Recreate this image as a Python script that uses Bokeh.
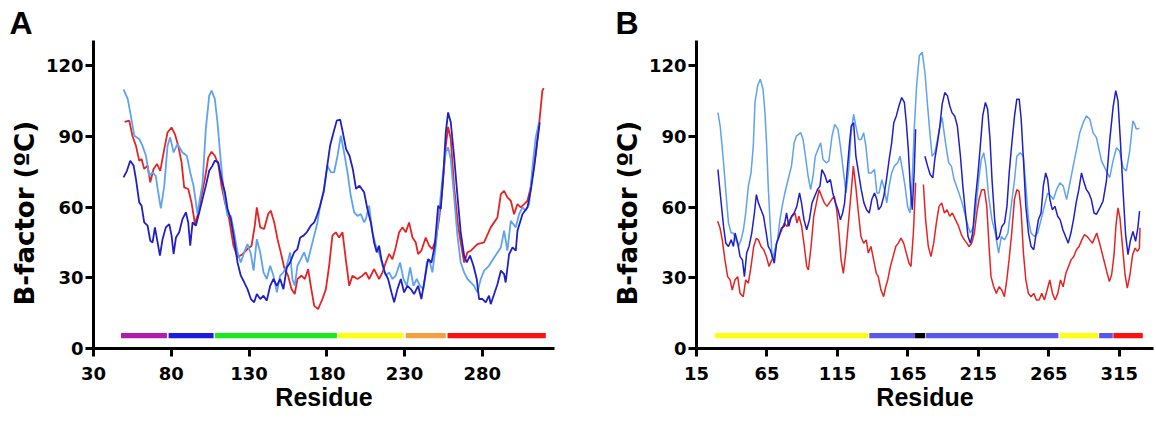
from bokeh.plotting import figure
from bokeh.layouts import row
from bokeh.models import Range1d, FixedTicker, Title
from bokeh.embed import file_html
from bokeh.resources import INLINE

NaN = float("nan")

# ---------------- Panel A data ----------------
a_red_res = [50, 53, 55, 57.3, 59.4, 60.9, 62.6, 64.8, 66.5, 68.6, 70.8, 72.9, 75.5, 77.6, 80.2, 82.3, 84.5, 86.6, 88.3,
             90.9, 93, 95.2, 96.9, 99, 101.6, 103.8, 105.9, 108, 110.2, 112.3, 114.5, 117.2, 120, 122.6, 125.8, 129,
             131.6, 133.7, 135, 137.2, 139.7, 142.3, 144, 146.2, 148.3, 150.4, 152.6, 155.1, 157.3, 159.4, 161.1,
             163.7, 165.9, 168, 169.7, 171.9, 174.4, 177.2, 179.4, 181.5, 183.6, 185.8, 187.9, 190.1, 192.2, 194.4,
             196.5, 199.7, 202.9, 205.1, 207.2, 210.4, 213.6, 215.8, 217.9, 220.1, 222.2, 224.3, 226.5, 228.6, 230.8,
             232.9, 235.1, 237.2, 238.7, 240.8, 243.6, 245.8, 247.9, 250.1, 252.2, 254.3, 256.5, 258, 259.7, 261.8,
             264.4, 266.1, 268.3, 270.4, 272.6, 276.9, 281.1, 285.4, 289.7, 291.9, 294, 296.1, 298.3, 300.4, 302.6,
             304.7, 306.9, 309, 311.1, 314.3, 316.5, 318.6, 319.5]
a_red_val = [96.2, 96.7, 90.3, 86, 79.7, 80.4, 76.2, 77.6, 70.5, 76.2, 78.3, 75.4, 84.6, 91.7, 93.8, 91, 86, 79, 68.4,
             67.7, 62, 53, 56.3, 63.4, 71.9, 81.1, 83.5, 81.8, 78.3, 69, 62, 55, 43.6, 38.7, 40, 42.2,
             43.6, 52.1, 59.9, 51.4, 50.7, 57.1, 58.5, 53.5, 46.4, 40.8, 34.4, 30.9, 25.2, 23.1, 29.5,
             30.9, 29.5, 33.7, 26.6, 18.1, 16.7, 21, 25.2, 35.1, 47.9, 49.3, 47.1, 49.3, 37.9, 26.6,
             30.9, 29.5, 30.9, 32.3, 29.5, 33.7, 29.5, 32.3, 36.5, 40.1, 37.9, 42.9, 49.3, 51.4, 49.3,
             53.5, 47.1, 45, 40.1, 41.5, 47.1, 43.6, 42.2, 46.4, 54.9, 67.7, 86, 94, 88.9, 69,
             52.1, 45, 36.5, 40.8, 41.5, 44.3, 45, 51.4, 55.6, 65.5, 66.9, 64.1, 62.7, 57, 61.3,
             59.9, 61.3, 62.7, 68.3, 82.5, 95.2, 109.4, 110.5]

a_dark_res = [49.3, 51.5, 53.6, 55.8, 57.3, 59.4, 60.9, 62.6, 64.8, 66.5, 68, 69.5, 71.2, 72.7, 74.4, 76.5, 78.7, 80.2,
              81.5, 83, 85.1, 87.2, 89.4, 90.9, 92.2, 93.7, 95.8, 98, 100.1, 102.2, 104.4, 106.5, 108, 110.2, 112.3,
              114.5, 116.2, 118.3, 120.4, 122.6, 124.7, 126.9, 129, 131.2, 133.3, 135, 137.2, 139.3, 141.4, 143.6,
              145.7, 147.9, 150, 152.1, 154.3, 156.4, 159, 161.1, 162.9, 165, 167.1, 169.7, 171.9, 173.6, 175.7,
              177.9, 180, 182.1, 184.3, 186.4, 188.6, 190.3, 192.4, 194.6, 196.7, 198.8, 201, 204, 206.1, 208.3,
              210.4, 212.1, 213.6, 215.1, 217.3, 219.4, 221.6, 223.3, 225.4, 227.6, 229.7, 231.8, 234, 236.1, 238.7,
              240.8, 243, 245.1, 247.3, 249.4, 251.6, 253.3, 255, 256.5, 258, 259.7, 261.8, 264, 266.1, 268.3, 270,
              272.1, 274.3, 276.4, 277.9, 280.1, 282.2, 284.3, 285.4, 287.6, 289.7, 291.9, 294, 295, 297.2, 299.4,
              301.5, 302.6, 305.8, 309, 311.1, 313.3, 315.4, 316.9]
a_dark_val = [72.6, 75.4, 79.7, 77.6, 71.9, 62, 60.6, 53.5, 52.1, 45.7, 45, 51.4, 45, 39.4, 46.4, 51.4, 52.8, 47.9,
              40.1, 47.1, 49.3, 54.9, 57.8, 53.5, 43.6, 53.5, 52.1, 57.8, 63.4, 69, 75.4, 77.6, 79.7, 79, 71.9,
              66.3, 59.2, 54.9, 46.4, 36.5, 30.9, 28.1, 25.2, 21, 19.6, 23.1, 21, 22.4, 20.3, 26.6,
              29.5, 26.6, 29.5, 25.2, 34.4, 36.5, 40.8, 42.2, 47.1, 47.9, 49.3, 52.1, 53.5, 56.3, 60.6,
              66.3, 76.2, 86, 91.7, 96.7, 97.1, 91.7, 84.6, 81.8, 76.2, 67.7, 69.1, 66.3, 59.2, 53.5,
              45, 40.8, 43.6, 37.9, 32.3, 29.5, 23.8, 19.6, 25.2, 29.5, 23.8, 26.6, 25.2, 23.1, 26.6,
              21, 29.5, 37.9, 36.5, 43.6, 60.6, 59.2, 74.7, 91.7, 100.2, 96, 81.8, 64.8, 49.3, 39.4, 36.5,
              39.4, 35.1, 29.5, 21, 21, 19.6, 22.4, 18.8, 23.1, 27.3, 33, 31.6, 28, 40, 42.9,
              41.5, 50, 57, 59.9, 67, 76.8, 88.2, 96]

a_light_res = [49.3, 52, 54, 56.2, 59.4, 61.5, 63.7, 65.8, 68, 70, 71.6, 73.3, 75.5, 77.6, 79.3, 81.5, 84, 87.2, 90,
               92.2, 94.3, 96.9, 98, 100.1, 102.2, 104.4, 105.9, 108, 109.7, 111.9, 114, 116.2, 118.3, 120.4, 122.6,
               124.7, 126.9, 129, 131.2, 132.9, 135, 137.2, 139.3, 141.4, 143.6, 145.7, 147.9, 150, 152.1, 154.3,
               156.4, 157.9, 159.4, 161.1, 163.3, 165.4, 167.6, 169.7, 171.9, 174, 176.1, 178.3, 180.4, 182.6, 184.7,
               186.9, 189, 191.1, 193.3, 195.4, 197.6, 199.7, 201.9, 204, 205.1, 207.2, 209.3, 211.5, 213.6, 215.8,
               217.9, 220.1, 222.2, 224.3, 227.1, 229.3, 231.4, 233.6, 235.7, 237.8, 240, 242.1, 244.3, 245.8, 247.9,
               250.1, 252.2, 254.3, 256.5, 258, 259.7, 261.8, 264, 266.1, 268.3, 270.4, 272.6, 274.7, 276.8, 279,
               281.1, 284.3, 287.6, 291.9, 294, 296.1, 298.3, 301.5, 303.6, 305.8, 307.9, 310.1, 312.2, 314.3, 316.5]
a_light_val = [110, 105.9, 98.8, 90.3, 88.9, 86, 81.8, 73.3, 74.7, 73.3, 66.3, 59.5, 69, 86, 89.6, 83.2, 86.8, 83.2, 81.8,
               74.7, 69, 57, 62, 70, 93.1, 107.3, 109.4, 105.9, 96, 79, 64.8, 56.3, 56.3, 49.3, 40.8,
               36.5, 40.8, 44.3, 40.1, 33, 46.4, 40.8, 32.3, 29.5, 35.1, 30.9, 23.8, 30.9, 32.3, 35.1,
               40.8, 29.5, 26.6, 35.1, 37.9, 40.8, 36.5, 42.2, 47.9, 53.5, 62, 67.7, 77.6, 74.7, 74.7,
               81.8, 90.3, 83.2, 74.7, 64.8, 57.8, 56.3, 57, 53.5, 54.9, 60.6, 49.3, 43.6, 40.8, 35.1,
               30.9, 32.3, 29.5, 30.9, 36.5, 29.5, 26.6, 34.4, 26.6, 29.5, 26.6, 25.2, 36.5, 37.9, 32.3,
               43.6, 57.8, 71.9, 83.2, 85.4, 80.4, 64.8, 47.9, 36.5, 32.3, 29.5, 28.1, 26.6, 23.8, 29.5,
               33, 35.1, 38.6, 42.9, 50, 41.5, 54.2, 51.4, 57, 59.9, 58.5, 61.3, 76.8, 89.6, 96]

a_dom_start = [47.7, 78.3, 108.0, 187.3, 230.8, 257.6]
a_dom_end = [77.2, 107.2, 186.5, 229.3, 256.5, 320.8]
a_dom_color = ["#b01cae", "#1c1ce0", "#1ee81e", "#ffff10", "#f5a040", "#ff1010"]
a_xticks = [30, 80, 130, 180, 230, 280]

# ---------------- Panel B data ----------------
b_red_res = [30, 31.7, 33.3, 35.2, 37.1, 38.8, 40.4, 42.3, 44.2, 45.9, 48.2, 49.9, 51.8, 53.7, 55.6, 57.5, 58.9, 60.8,
             62.7, 64.6, 66.5, 68.4, 70.2, 71.9, 73.6, 75.5, 77.3, 79.2, 81.1, 83, 84.9, 86.3, 87.7, 89.6, 91.5, 93.2,
             94.4, 96.3, 98.2, 100.1, 102, 103.8, 105.7, 107.6, 110.9, 112.8, 114.5, 116.1, 117.6, 119.2, 120.9,
             122.8, 124.7, 126.3, 128, 129.9, 131.7, 133.6, 135.5, 136.9, 138.8, 140.7, 142.6, 144, 145.9, 147.8,
             149.3, 150.7, 152.6, 154.5, 156.4, 158.2, 160.1, 162, 163.9, 165.8, 167.2, 168.9, 170.5, 173,
             176, 177.6, 179.5, 181.4, 183.3, 185.2, 187.1, 189, 190.9, 192.8, 194.7, 196.6, 198.5, 200.9, 203.2,
             205.1, 206.8, 208.4, 210.3, 212.2, 213.9, 215.5, 217.4, 219.3, 221, 222.6, 224, 225.9, 227.8, 229.7,
             231.6, 233.5, 235.2, 236.8, 238.7, 240.6, 242.3, 243.9, 245.3, 247, 248.7, 250.5, 252.4, 254.3, 256.2,
             258.1, 260, 261.9, 263.8, 265.7, 267.6, 269.5, 271.4, 273.3, 275.2, 277.1, 279, 280.8, 282.7, 284.6,
             286.5, 288.4, 290.3, 292.2, 294.1, 296, 299, 301.3, 303.7, 306.1, 308, 309.6, 311.3, 312.7, 314.1,
             315.5, 317.4, 319.1, 320.7, 322.6, 324.5, 326.2, 327.9, 329.3, 329.7]
b_red_val = [54, 51.1, 46.1, 37.6, 30.5, 29.1, 24.8, 29.1, 30.5, 23.4, 22, 29.1, 27.7, 34.8, 43.3, 46.8, 46.1, 43.3,
             41.9, 39, 34.8, 37.6, 39, 44.7, 47.5, 50.4, 53.2, 51.8, 54.6, 56.1, 57.5, 53.2, 56.1, 51.8, 43.3, 34.8,
             33.3, 43.3, 56.1, 61.8, 67.4, 64.6, 61.8, 60.3, 63.2, 64.6, 58.9, 49, 37.6, 31.9, 40.5,
             53.2, 66, 77.4, 68.9, 57.5, 47.5, 44.7, 46.1, 40.5, 43.3, 37.6, 31.9, 30.5, 24.8, 22,
             26.2, 29.1, 34.8, 39, 43.3, 44.7, 46.8, 44.7, 40.5, 36.2, 34.8, 49, 70.3, NaN,
             69.6, 54.6, 43.3, 39, 44.7, 53.2, 60.3, 61.8, 57.5, 58.9, 56.1, 57.5, 55, 52, 48,
             46.1, 44.7, 43.3, 44.7, 49, 57.5, 63.2, 67.4, 67.4, 60.3, 43.3, 30.5, 26.2, 23.4, 26.2,
             24.8, 22, 29.1, 37.6, 49, 63.2, 67.4, 66.7, 58.9, 40.5, 29.1, 23.4, 22, 23.4, 20.6,
             20.6, 23.4, 20.6, 24.8, 29.1, 23.4, 20.6, 23.4, 29.1, 26.2, 31.9, 34.8, 37.6, 39, 41.9,
             43.3, 46.1, 48.3, 47.5, 46.1, 44.7, 49, 44.1, 38.4, 32.7, 28.4, 31.3, 39.8, 52.6, 59.7,
             55.4, 42.6, 31.3, 25.6, 31.3, 39.8, 42.6, 41.2, 42.6, 51.2]

b_dark_res = [30.2, 31.8, 34.2, 35.8, 37.7, 39.6, 41.2, 42.4, 44.3, 45.9, 47.6, 49, 50.6, 52.3, 54.2, 56.1, 57.5, 58.9,
              60.8, 62.6, 64.5, 65.9, 67.3, 68.8, 70.2, 71.8, 73.5, 75.3, 77.2, 78.9, 80.5, 82.4, 84.3, 86.2, 88.1,
              89.5, 91.3, 93.2, 95.1, 97, 98.9, 100.8, 102.6, 104, 105.9, 107.8, 110, 111.7, 113.6, 115.4, 117.1,
              118.7, 120.1, 121.8, 123.4, 124.8, 126.5, 128.1, 130, 131.9, 133.8, 135.7, 137.6, 139.4, 141.3, 143,
              144.1, 146, 147.9, 149.8, 151.7, 153.5, 155, 156.8, 158.7, 160.6, 162.5, 163.9, 165.3, 166.7, 168.1,
              169.5, 170.5, 173, 177.1, 179, 180.8, 182.7, 184.1, 186, 187.7, 189.3, 191.2, 193.1, 194.7, 196.3,
              198.2, 200.1, 202.3, 204, 205.9, 207.7, 209.4, 211, 212.9, 214.8, 216.4, 218.1, 220, 221.6, 223.3,
              224.7, 226.6, 228.2, 229.9, 231.7, 233.6, 235.3, 236.9, 238.8, 240.7, 242.3, 244, 245.4, 247, 248.7,
              250.6, 252.4, 254.3, 255.7, 257.6, 259.5, 261.1, 262.8, 264.2, 265.8, 267.5, 269.4, 271.3, 273.1,
              275, 276.9, 278.8, 280.7, 282.5, 284.4, 286.3, 288.2, 290.1, 291.7, 293.4, 295.2, 297.1, 298.8,
              301.2, 303.5, 305.9, 308.2, 310.6, 312.5, 314.1, 315.8, 317.7, 319.5, 321.2, 322.8, 324.7, 326.6,
              328.2, 329.4]
b_dark_val = [75.9, 66, 51.8, 44.7, 43.3, 46.1, 43.3, 49, 44.7, 39, 37.6, 30.5, 40.5, 43.3, 49, 57.5, 65.3, 61.8,
              58.9, 56.1, 49, 43.3, 41.9, 39, 36.2, 44.7, 47.5, 51.1, 51.8, 57.5, 51.8, 56.1, 57.5, 60.3, 66,
              61.8, 54.6, 50.4, 54.6, 61.8, 64.6, 67.4, 68.9, 75.9, 73.8, 70.3, 71.7, 66, 61.8, 58.9, 54.6,
              57.5, 61.8, 74.5, 85.9, 94.4, 95.8, 81.6, 74.5, 67.4, 61.8, 58.9, 57.5, 63.2, 66, 63.2,
              58.9, 60.3, 64.6, 71.7, 80.2, 87.3, 95.8, 98.7, 103, 106.5, 104.4, 95.8, 84.5, 68.9, 58.9,
              75, 93, NaN, 81.6, 77.4, 73.8, 72.4, 80.2, 87.3, 94.4, 103.6, 108.6, 107.2, 103, 100.1,
              98.7, 94.4, 81.6, 68.9, 57.5, 47.5, 44.7, 49, 63.2, 74.5, 85.9, 98.7, 104.4, 101.5, 88.7,
              71.7, 54.6, 46.1, 47.5, 51.8, 53.3, 60.3, 74.5, 87.3, 98.7, 105.8, 105.8, 97.3, 80.2, 60.3,
              49, 43.3, 41.9, 47.5, 54.6, 57.5, 68.9, 74.5, 71.7, 63.2, 58.9, 60.3, 56.1, 54.6,
              50.4, 47.5, 44.7, 49, 54.6, 61.8, 67.4, 74.5, 70.3, 67.4, 66, 63.2, 57.5, 56.9,
              59.7, 62.5, 71.1, 88.1, 102.3, 109.4, 105.1, 88.1, 66.8, 48.3, 39.8, 45.5, 49.7, 45.5,
              51.2, 58.3]

b_light_res = [30.2, 31.8, 34.2, 36.5, 37.7, 39.6, 41.2, 42.9, 44.8, 46.6, 48.3, 49.9, 51.8, 53.7, 55.3, 56.5, 58.4,
               60.3, 62.2, 63.6, 64.8, 65.9, 67.1, 68.8, 70.6, 72.5, 74.2, 75.8, 77.7, 80, 82.4, 84.3, 85.9, 89,
               90.6, 92.3, 94.2, 96, 97.7, 99.3, 101.2, 103.1, 104.8, 107.1, 108.9, 111.2, 113.1, 115.4, 117.1,
               119.4, 121.1, 123, 124.8, 126.5, 128.1, 130, 131.9, 133.6, 135.2, 137.1, 139, 141.3, 143, 144.6,
               146.5, 148.4, 150, 151.7, 153.5, 155.4, 157.8, 159.4, 161.1, 163, 164.8, 166.5, 168.1, 169.5, 171.2,
               173.1, 175.2, 177.1, 179, 180.6, 182.2, 184.1, 186, 187.7, 189.3, 190.7, 192.4, 194, 195.9, 197.8,
               201.2, 203.5, 205.9, 207.7, 209.4, 211.7, 213.4, 215.3, 217.1, 218.8, 220.4, 222.3, 224.7, 227,
               229.4, 231.3, 233.6, 236, 238.3, 240.7, 242.3, 244.7, 247, 248.7, 250.6, 252.4, 254.8, 257.1, 259.5,
               261.8, 264.2, 266.6, 268.2, 270.5, 272.9, 275.3, 277.6, 280, 282.3, 284.7, 287, 289.4, 291.7, 294.1,
               296.4, 298.8, 302.4, 305.9, 308.2, 310.6, 313, 315.3, 317.7, 320, 322.4, 324.7, 325.9, 327.1, 329.3]
b_light_val = [100.1, 94.4, 78.8, 61.8, 53.2, 49, 49, 46.1, 43.3, 46.1, 50.4, 57.5, 68.9, 74.5, 85.9, 104.4, 111.5,
               114.3, 110, 100.1, 85.9, 68.9, 54.6, 37.6, 41.9, 46.1, 54.6, 60.3, 66, 71.7, 77.4, 87.3, 90.1, 91.6,
               88.7, 81.6, 73.1, 67.4, 73.1, 81.6, 84.5, 87.3, 80.2, 78.8, 79.5, 90.2, 95.1, 93, 85.9,
               74.5, 66, 76, 91.6, 99.4, 94.4, 88.7, 88.7, 91.6, 85.9, 74.5, 74.5, 76, 66, 66,
               71.7, 67.4, 61.8, 68.9, 74.5, 77.4, 78.8, 81.6, 76, 68.9, 60.3, 57.5, 71.7, 93, 111.5,
               124.2, 125.7, 117.1, 102.9, 91.6, 81.6, 83.1, 88.7, 94.4, 98, 91.6, 84.5, 78.8, 77.4, 71.7,
               66, 61.8, 56.1, 51.8, 49, 51.8, 60.3, 71.7, 80.2, 83.1, 77.4, 64.6, 54.6, 49,
               40.5, 47.5, 46.1, 49, 60.3, 71.7, 81.6, 83.1, 81.6, 68.9, 54.6, 49, 47.5, 49, 54.6,
               60.3, 66, 64.6, 63.2, 67.4, 70.3, 68.9, 63.2, 70.3, 77.4, 84.5, 91.6, 95.8, 98.7, 97.3,
               91.6, 89.5, 79.6, 75.3, 72.5, 79.6, 85.2, 83.8, 76.7, 75.3, 83.8, 96.6, 95.2, 93.1, 93.5]

b_dom_start = [28.1, 137.6, 170.1, 177.9, 272.5, 300.7, 310.8]
b_dom_end = [137.0, 170.1, 177.3, 271.8, 300.2, 310.4, 331.7]
b_dom_color = ["#ffff10", "#5858f0", "#000000", "#5858f0", "#ffff10", "#5858f0", "#ff1010"]
b_xticks = [15, 65, 115, 165, 215, 265, 315]

y_ticks = [0, 30, 60, 90, 120]
y_title = "B-factor (ºC)"
x_title = "Residue"

RED = "#e62323"
DARK = "#1f1fc8"
LIGHT = "#5ea2f0"
FONT = "Liberation Sans"
WIDE = "DejaVu Sans"


def panel(letter, width, x_start, x_end, xticks, series, dom, lw, border_left, border_right, letter_dx):
    p = figure(width=width, height=421, x_range=Range1d(x_start, x_end), y_range=Range1d(0, 130.7),
               output_backend="svg", toolbar_location=None,
               min_border_left=border_left, min_border_right=border_right,
               min_border_top=40, min_border_bottom=73)
    p.outline_line_color = None
    p.xgrid.visible = False
    p.ygrid.visible = False
    p.xaxis.ticker = FixedTicker(ticks=xticks)
    p.yaxis.ticker = FixedTicker(ticks=y_ticks)
    for ax in (p.xaxis[0], p.yaxis[0]):
        ax.axis_line_width = 3
        ax.axis_line_color = "black"
        ax.major_tick_line_width = 3
        ax.major_tick_line_color = "black"
        ax.major_tick_out = 8
        ax.major_tick_in = 0
        ax.minor_tick_line_color = None
        ax.major_label_text_font = WIDE
        ax.major_label_text_font_style = "bold"
        ax.major_label_text_font_size = "18px"
        ax.major_label_text_color = "black"
    p.xaxis.axis_label = x_title
    p.xaxis.axis_label_text_font = FONT
    p.xaxis.axis_label_text_font_style = "bold"
    p.xaxis.axis_label_text_color = "black"
    p.xaxis.axis_label_text_font_size = "25px"
    p.xaxis.major_label_standoff = 10
    p.xaxis.axis_label_standoff = 0
    p.yaxis.major_label_standoff = 2

    # y axis title placed as a side title so it can be shifted along the axis
    p.add_layout(Title(text=y_title, align="left", offset=43, standoff=6,
                       text_font=WIDE, text_font_style="bold", text_font_size="26px",
                       text_color="black"), "left")

    p.title.text = letter
    p.title.text_font = FONT
    p.title.text_font_style = "bold"
    p.title.text_font_size = "32px"
    p.title.text_color = "black"
    p.title.align = "left"
    p.title.offset = letter_dx
    p.title.standoff = 0

    starts, ends, colors = dom
    p.quad(left=starts, right=ends, bottom=4.3, top=6.6, fill_color=colors, line_color=None)

    for xs, ys, col in series:
        p.line(xs, ys, line_color=col, line_width=lw)
    return p


pa = panel("A", 578, 30, 326.4, a_xticks,
           [(a_red_res, a_red_val, RED), (a_light_res, a_light_val, LIGHT), (a_dark_res, a_dark_val, DARK)],
           (a_dom_start, a_dom_end, a_dom_color), 1.8, 93, 24, -84)
pb = panel("B", 576, 15, 339.3, b_xticks,
           [(b_red_res, b_red_val, RED), (b_light_res, b_light_val, LIGHT), (b_dark_res, b_dark_val, DARK)],
           (b_dom_start, b_dom_end, b_dom_color), 1.5, 118, 1, -81)

layout = row(pa, pb, spacing=0)
open("out.html", "w").write(file_html(layout, INLINE))
